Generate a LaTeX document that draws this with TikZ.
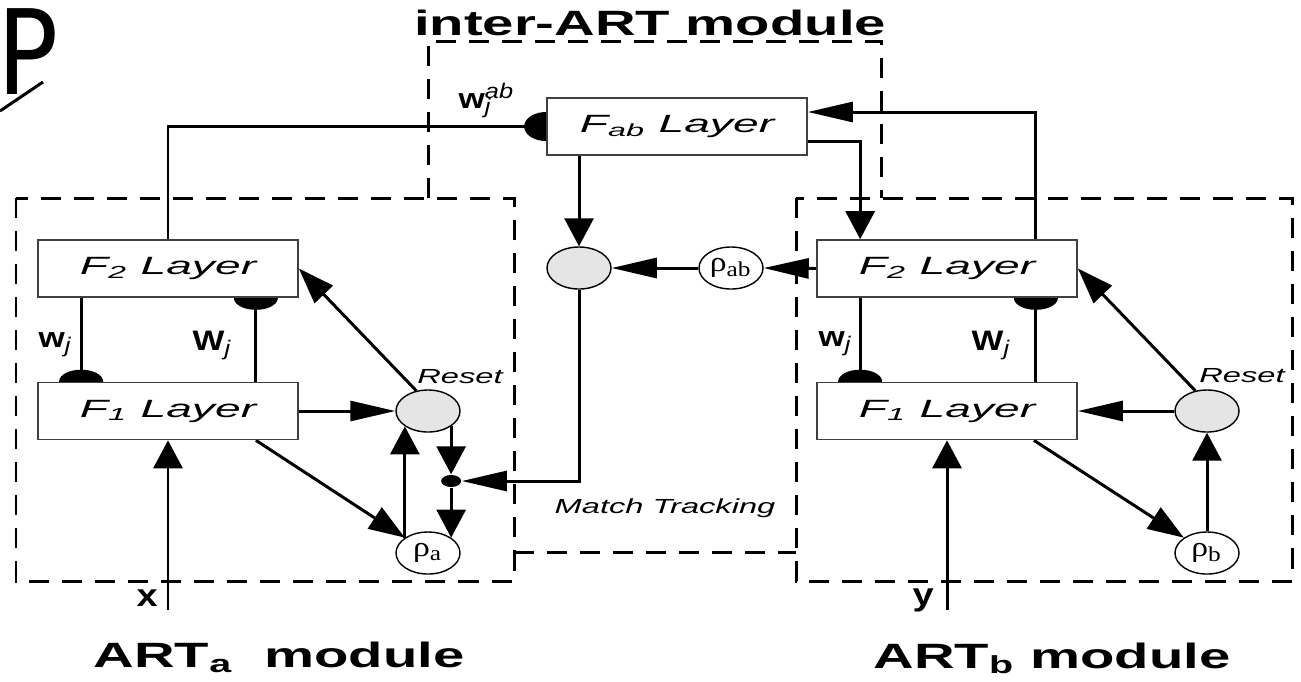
\documentclass[tikz,border=0pt]{standalone}
\usepackage{fontspec}
\setmainfont{Liberation Sans}
\newfontfamily\widesf{Liberation Sans}[FakeStretch=1.6]
\newfontfamily\layersf{Liberation Sans}[FakeStretch=1.85]
\newfontfamily\labelsf{Liberation Sans}[FakeStretch=1.2]
\newfontfamily\bigsf{DejaVu Sans}[FakeStretch=0.86]
\newfontfamily\rhoserif{Liberation Serif}[FakeStretch=1.2]
\usepackage{tikz}
\usetikzlibrary{shapes.geometric,arrows.meta,positioning,calc,backgrounds}

\begin{document}
\begin{tikzpicture}[x=0.01cm, y=-0.01cm,
    layer/.style={rectangle, draw=black!75, line width=0.45pt, fill=white,
               minimum width=2.6cm, minimum height=0.57cm, inner sep=0pt,
               font=\layersf\itshape\fontsize{7.1}{8}\selectfont},
    unit/.style={ellipse, draw=black, line width=0.4pt, fill=black!10,
               minimum width=0.64cm, minimum height=0.42cm, inner sep=0pt},
    vig/.style={unit, fill=white, font=\rhoserif\fontsize{8}{9}\selectfont},
    jdot/.style={ellipse, fill=black, minimum width=0.2cm, minimum height=0.12cm, inner sep=0pt},
    ttl/.style={font=\widesf\bfseries\fontsize{10}{12}\selectfont, inner sep=0pt},
    small/.style={font=\widesf\itshape\fontsize{5.8}{7}\selectfont, inner sep=0pt},
    wlbl/.style={font=\labelsf\fontsize{8}{9}\selectfont, inner sep=0pt, anchor=base west},
    inlbl/.style={font=\labelsf\bfseries\fontsize{9}{10}\selectfont, inner sep=0pt, anchor=base west},
    dashbox/.style={line width=0.85pt, dash pattern=on 0.2cm off 0.13cm},
    line/.style={line width=0.85pt},
    harr/.style={line, -{Triangle[length=0.45cm,width=0.2cm]}},
    varr/.style={line, -{Triangle[length=0.28cm,width=0.29cm]}},
    darr/.style={line, -{Triangle[length=0.36cm,width=0.25cm]}},
    synh/.style={line, -{Circle[length=0.44cm,width=0.29cm]}, shorten >=-0.22cm},
    synv/.style={line, -{Circle[length=0.24cm,width=0.44cm]}, shorten >=-0.12cm}
]
    \useasboundingbox (0,0) rectangle (1301,681);

    \node[font=\bigsf\fontsize{33.5}{36}\selectfont, inner sep=0pt, anchor=base west] (pglyph) at (-3,94) {P};
    \draw[line] (0,111) -- (43,82);

    % module outlines
    \draw[dashbox] (16,198) rectangle (514,581);
    \draw[dashbox] (796,198) rectangle (1292,581);
    \draw[dashbox] (428,198) -- (428,41) -- (881,41) -- (881,198);
    \draw[dashbox] (514,552) -- (796,552);

    \node[ttl, anchor=base] (title) at (650,35) {inter-ART module};
    \node[ttl, anchor=base] (moda) at (279,667) {ART\textsubscript{a}\ \ module};
    \node[ttl, anchor=base] (modb) at (1052,668) {ART\textsubscript{b} module};

    % layers
    \node[layer] (fab) at (677,126.5) {\textit{F}\textsubscript{ab} Layer};
    \node[layer] (f2a) at (168,268.5) {\textit{F}\textsubscript{2} Layer};
    \node[layer] (f1a) at (168,411) {\textit{F}\textsubscript{1} Layer};
    \node[layer] (f2b) at (947,268.5) {\textit{F}\textsubscript{2} Layer};
    \node[layer] (f1b) at (947,411) {\textit{F}\textsubscript{1} Layer};

    % reset and vigilance units
    \node[unit] (reseta) at (428,411) {};
    \node[vig] (rhoa) at (428,553) {ρ\textsubscript{a}};
    \node[unit] (resetb) at (1207,411) {};
    \node[vig] (rhob) at (1207,553) {ρ\textsubscript{b}};
    \node[unit] (mt) at (579,268) {};
    \node[vig] (rhoab) at (731,268) {ρ\textsubscript{ab}};
    \node[jdot] (jct) at (reseta.south east |- 0,481) {};
    \coordinate (xin) at (168,610);
    \coordinate (yin) at (947,610);

    \node[small, anchor=base] (rsta) at (460,383) {Reset};
    \node[small, anchor=base] (rstb) at (1242,382) {Reset};
    \node[small, anchor=base] (mtl) at (665,513) {Match Tracking};

    \node[wlbl] (wab) at (458,108) {{\bfseries w}\rlap{\textsubscript{\itshape j}}\textsuperscript{\itshape ab}};
    \node[wlbl] (wa) at (38,347) {{\bfseries w}\textsubscript{\itshape j}};
    \node[wlbl] (Wa) at (192,350) {{\bfseries W}\textsubscript{\itshape j}};
    \node[wlbl] (wb) at (818,346) {{\bfseries w}\textsubscript{\itshape j}};
    \node[wlbl] (Wb) at (971,350) {{\bfseries W}\textsubscript{\itshape j}};
    \node[inlbl] (xl) at (136,606) {x};
    \node[inlbl] (yl) at (912,605) {y};

    \begin{scope}[on background layer]
    % ART_a
    \draw[harr] (f1a.east) -- (reseta.west);
    \draw[darr] (reseta.120) -- (f2a.east);
    \draw[darr] ($(f1a.south east)+(-43,0)$) -- (rhoa.north west);
    \draw[varr] (rhoa.north west) -- (reseta.south west);
    \draw[varr] (reseta.south east) -- (jct.north);
    \draw[varr] (jct.south) -- (rhoa.north east);
    \draw[varr] (xin) -- (f1a.south);
    \draw[synv] ($(f2a.south west)+(44,0)$) -- ($(f1a.north west)+(44,0)$);
    \draw[synv] ($(f1a.north east)+(-43,0)$) -- ($(f2a.south east)+(-43,0)$);
    \draw[synh] (f2a.north) |- (fab.west);

    % inter-ART
    \draw[varr] (fab.south -| mt.north) -- (mt.north);
    \draw[harr] (rhoab.west) -- (mt.east);
    \draw[harr] (f2b.west) -- (rhoab.east);
    \draw[harr] (mt.south) |- (jct.east);
    \draw[varr] ($(fab.east)+(0,14.5)$) -| ($(f2b.north west)+(44,0)$);
    \draw[harr] ($(f2b.north east)+(-42,0)$) |- ($(fab.east)+(0,-14.5)$);

    % ART_b
    \draw[harr] (resetb.west) -- (f1b.east);
    \draw[darr] (resetb.120) -- (f2b.east);
    \draw[darr] ($(f1b.south east)+(-44,0)$) -- (rhob.north west);
    \draw[varr] (rhob.north) -- (resetb.south);
    \draw[varr] (yin) -- (f1b.south);
    \draw[synv] ($(f2b.south west)+(44,0)$) -- ($(f1b.north west)+(44,0)$);
    \draw[synv] ($(f1b.north east)+(-42,0)$) -- ($(f2b.south east)+(-42,0)$);
    \end{scope}
\end{tikzpicture}
\end{document}
